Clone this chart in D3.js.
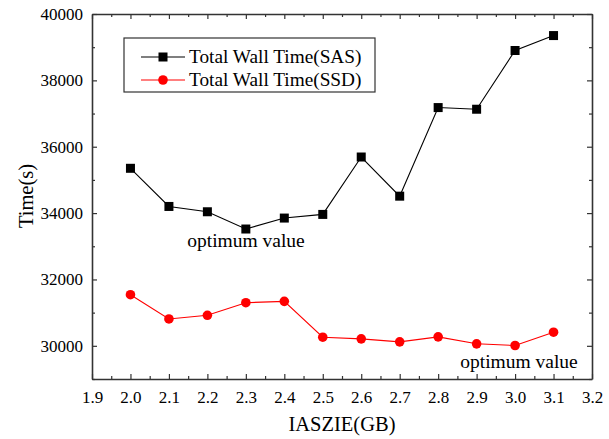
<!DOCTYPE html>
<html>
<head>
<meta charset="utf-8">
<script src="https://cdn.jsdelivr.net/npm/d3@7"></script>
</head>
<body style="margin:0">
<svg id="chart" width="609" height="439"></svg>
<script>
// Index allocation size (GB) vs. total wall time
const sizes = [2.0, 2.1, 2.2, 2.3, 2.4, 2.5, 2.6, 2.7, 2.8, 2.9, 3.0, 3.1];
const sasTime = [35350, 34200, 34040, 33520, 33850, 33960, 35690, 34510, 37180, 37130, 38900, 39350];
const ssdTime = [31540, 30810, 30920, 31300, 31340, 30260, 30210, 30120, 30270, 30060, 30010, 30410];
const xTicks = [1.9, 2.0, 2.1, 2.2, 2.3, 2.4, 2.5, 2.6, 2.7, 2.8, 2.9, 3.0, 3.1, 3.2];
const yTicks = [30000, 32000, 34000, 36000, 38000, 40000];
const seriesNames = ["Total Wall Time(SAS)", "Total Wall Time(SSD)"];

const serif = "Times New Roman";
const svg = d3.select("#chart");
const L = 92, R = 592, T = 14, B = 379;
const axisColor = "#333";

const x = d3.scaleLinear().domain([1.9, 3.2]).range([L, R]);
const y = d3.scaleLinear().domain([29000, 40000]).range([B, T]);

// minor tick positions
const xMinor = d3.range(1.95, 3.2, 0.1).map(v => +v.toFixed(2));
const yMinor = d3.range(29000, 40000, 1000).filter(v => v % 2000 !== 0);

function styleAxis(g) {
  g.attr("font-family", null).attr("font-size", null);
  g.select(".domain").attr("stroke", axisColor).attr("stroke-width", 1.6);
  g.selectAll(".tick line").attr("stroke", axisColor).attr("stroke-width", 1.2);
  g.selectAll(".tick text").attr("fill", "#000").attr("font-family", serif).attr("font-size", 17);
}
function styleMinor(g) {
  g.select(".domain").remove();
  g.selectAll("line").attr("stroke", axisColor).attr("stroke-width", 1.2);
}

// bottom axis
svg.append("g").attr("transform", `translate(0,${B})`)
  .call(d3.axisBottom(x).tickValues(xTicks).tickFormat(d3.format(".1f"))
    .tickSizeInner(-5).tickSizeOuter(0).tickPadding(12))
  .call(styleAxis);
svg.append("g").attr("transform", `translate(0,${B})`)
  .call(d3.axisBottom(x).tickValues(xMinor).tickFormat("").tickSizeInner(-3).tickSizeOuter(0))
  .call(styleMinor);

// top axis
svg.append("g").attr("transform", `translate(0,${T})`)
  .call(d3.axisTop(x).tickValues(xTicks).tickFormat("").tickSizeInner(-5).tickSizeOuter(0))
  .call(styleAxis);
svg.append("g").attr("transform", `translate(0,${T})`)
  .call(d3.axisTop(x).tickValues(xMinor).tickFormat("").tickSizeInner(-3).tickSizeOuter(0))
  .call(styleMinor);

// left axis
svg.append("g").attr("transform", `translate(${L},0)`)
  .call(d3.axisLeft(y).tickValues(yTicks).tickFormat(d3.format("d"))
    .tickSizeInner(-5).tickSizeOuter(0).tickPadding(9))
  .call(styleAxis);
svg.append("g").attr("transform", `translate(${L},0)`)
  .call(d3.axisLeft(y).tickValues(yMinor).tickFormat("").tickSizeInner(-3).tickSizeOuter(0))
  .call(styleMinor);

// right axis
svg.append("g").attr("transform", `translate(${R},0)`)
  .call(d3.axisRight(y).tickValues(yTicks).tickFormat("").tickSizeInner(-5).tickSizeOuter(0))
  .call(styleAxis);
svg.append("g").attr("transform", `translate(${R},0)`)
  .call(d3.axisRight(y).tickValues(yMinor).tickFormat("").tickSizeInner(-3).tickSizeOuter(0))
  .call(styleMinor);

// axis titles
svg.append("text").attr("x", 342).attr("y", 431).attr("text-anchor", "middle")
  .attr("font-family", serif).attr("font-size", 20.5).attr("fill", "#000").text("IASZIE(GB)");
svg.append("text").attr("transform", "translate(33,196) rotate(-90)").attr("text-anchor", "middle")
  .attr("font-family", serif).attr("font-size", 20.5).attr("fill", "#000").text("Time(s)");

// series
const line = d3.line().x((d, i) => x(sizes[i])).y(d => y(d));

svg.append("path").datum(sasTime).attr("d", line)
  .attr("fill", "none").attr("stroke", "#000").attr("stroke-width", 1.1);
svg.append("g").selectAll("rect").data(sasTime).join("rect")
  .attr("x", (d, i) => x(sizes[i]) - 4.5).attr("y", d => y(d) - 4.5)
  .attr("width", 9).attr("height", 9).attr("fill", "#000");

svg.append("path").datum(ssdTime).attr("d", line)
  .attr("fill", "none").attr("stroke", "#f00").attr("stroke-width", 1.1);
svg.append("g").selectAll("circle").data(ssdTime).join("circle")
  .attr("cx", (d, i) => x(sizes[i])).attr("cy", d => y(d))
  .attr("r", 4.8).attr("fill", "#f00");

// annotations
svg.append("text").attr("x", 246).attr("y", 247).attr("text-anchor", "middle")
  .attr("font-family", serif).attr("font-size", 19.5).attr("fill", "#000").text("optimum value");
svg.append("text").attr("x", 519).attr("y", 368).attr("text-anchor", "middle")
  .attr("font-family", serif).attr("font-size", 19.5).attr("fill", "#000").text("optimum value");

// legend
const lg = svg.append("g");
lg.append("rect").attr("x", 124).attr("y", 38).attr("width", 251).attr("height", 54)
  .attr("fill", "#fff").attr("stroke", axisColor).attr("stroke-width", 1.2);
const rows = [
  { name: seriesNames[0], color: "#000", shape: "square", yy: 57 },
  { name: seriesNames[1], color: "#f00", shape: "circle", yy: 80 }
];
rows.forEach(r => {
  lg.append("line").attr("x1", 141).attr("x2", 185).attr("y1", r.yy).attr("y2", r.yy)
    .attr("stroke", r.color).attr("stroke-width", 1.1);
  if (r.shape === "square") {
    lg.append("rect").attr("x", 163 - 4.5).attr("y", r.yy - 4.5).attr("width", 9).attr("height", 9).attr("fill", r.color);
  } else {
    lg.append("circle").attr("cx", 163).attr("cy", r.yy).attr("r", 4.8).attr("fill", r.color);
  }
  lg.append("text").attr("x", 189).attr("y", r.yy + 6).attr("font-family", serif).attr("font-size", 19.3)
    .attr("fill", "#000").text(r.name);
});
</script>
</body>
</html>
